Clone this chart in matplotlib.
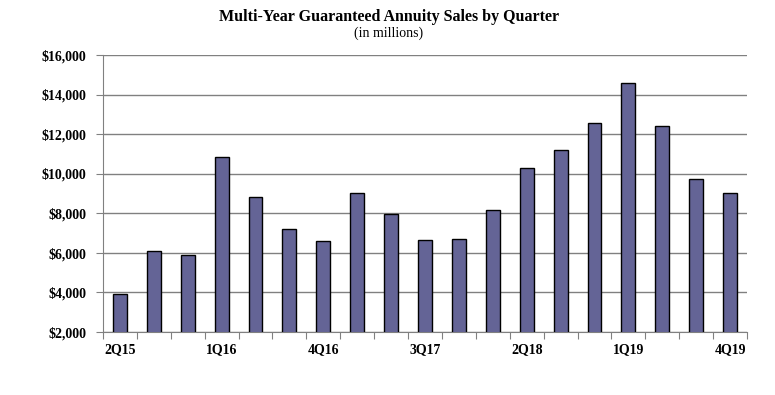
import matplotlib.pyplot as plt
import numpy as np

quarters = ['2Q15', '3Q15', '4Q15', '1Q16', '2Q16', '3Q16', '4Q16', '1Q17', '2Q17', '3Q17',
            '4Q17', '1Q18', '2Q18', '3Q18', '4Q18', '1Q19', '2Q19', '3Q19', '4Q19']
sales = [3940, 6110, 5910, 10830, 8810, 7230, 6620, 9050, 7950, 6670,
         6720, 8190, 10310, 11220, 12580, 14600, 12430, 9750, 9050]
shown_labels = ['2Q15', '1Q16', '4Q16', '3Q17', '2Q18', '1Q19', '4Q19']
y_ticks = [2000, 4000, 6000, 8000, 10000, 12000, 14000, 16000]

plt.rcParams['font.family'] = ['Liberation Serif', 'DejaVu Serif']

fig = plt.figure(figsize=(7.75, 3.95), dpi=100)
ax = fig.add_axes([0.1329, 0.1595, 0.8310, 0.7013])

x = np.arange(len(quarters))
ax.bar(x, sales, width=0.41, color='#646496', edgecolor='black', linewidth=1.0, zorder=3)

ax.set_xlim(-0.5, len(quarters) - 0.5)
ax.set_ylim(2000, 16000)
ax.set_yticks(y_ticks)
ax.set_yticklabels(['${:,}'.format(v) for v in y_ticks], fontsize=10, fontweight='bold')
ax.yaxis.grid(True, color='#808080', linewidth=1.0, zorder=0)

# ticks between categories, labels under every third bar
ax.set_xticks(np.arange(len(quarters) + 1) - 0.5)
ax.set_xticklabels([])
ax.set_xticks(x, minor=True)
ax.set_xticklabels([q if q in shown_labels else '' for q in quarters], minor=True,
                   fontsize=10, fontweight='bold')
ax.tick_params(axis='x', which='major', length=5, color='#808080', direction='out')
ax.tick_params(axis='x', which='minor', length=0, pad=8)
ax.tick_params(axis='y', length=5, color='#808080', pad=7)

for s in ['top', 'right']:
    ax.spines[s].set_visible(False)
ax.spines['left'].set_color('#808080')
ax.spines['bottom'].set_color('#808080')

fig.text(0.502, 0.957, 'Multi-Year Guaranteed Annuity Sales by Quarter', ha='center', va='center',
         fontsize=11.5, fontweight='bold')
fig.text(0.502, 0.917, '(in millions)', ha='center', va='center', fontsize=10)

fig.savefig('out.png', dpi=100)
